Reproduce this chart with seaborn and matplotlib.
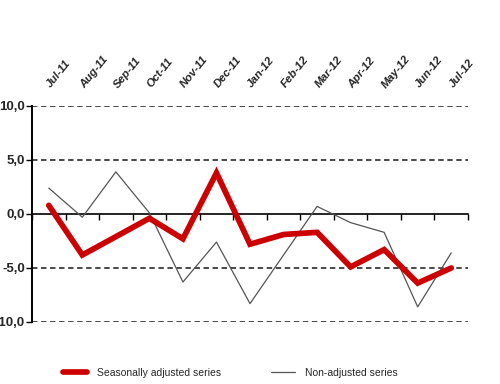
import pandas as pd
import numpy as np
import matplotlib
matplotlib.use('Agg')
import matplotlib.pyplot as plt
from matplotlib.ticker import FixedLocator
import seaborn as sns

# Dados do gráfico
meses = ['Jul-11', 'Aug-11', 'Sep-11', 'Oct-11', 'Nov-11', 'Dec-11', 'Jan-12',
         'Feb-12', 'Mar-12', 'Apr-12', 'May-12', 'Jun-12', 'Jul-12']
serie_ajustada = [0.8, -3.8, -2.1, -0.4, -2.3, 3.8, -2.8, -1.9, -1.7, -4.9, -3.3, -6.4, -5.0]
serie_bruta = [2.4, -0.3, 3.9, 0.1, -6.3, -2.6, -8.3, -3.8, 0.7, -0.8, -1.7, -8.6, -3.6]
rotulos_y = ['-10,0', '-5,0', '0,0', '5,0', '10,0']

sns.set_style('white')
plt.rcParams['font.family'] = ['Liberation Sans Narrow', 'Liberation Sans', 'DejaVu Sans']

dados = pd.DataFrame({'pos': range(len(meses)),
                      'ajustada': serie_ajustada,
                      'bruta': serie_bruta})

fig = plt.figure(figsize=(5, 3.84), dpi=100)
ax = fig.add_axes([0.064, 0.1615, 0.872, 0.5625])

sns.lineplot(data=dados, x='pos', y='bruta', ax=ax, color='#555555', linewidth=0.9,
             label='Non-adjusted series', zorder=3)
sns.lineplot(data=dados, x='pos', y='ajustada', ax=ax, color='#cc0000', linewidth=4.1,
             label='Seasonally adjusted series', zorder=4,
             solid_capstyle='round', solid_joinstyle='miter')

# linhas de grade tracejadas
for v in [-10, -5, 5, 10]:
    ax.axhline(v, color='#3a3a3a', linestyle=(0, (3, 2)), linewidth=1.3, zorder=1)

# eixos (a posição do eixo x tem de vir antes de formatar os rótulos)
ax.spines['top'].set_visible(False)
ax.spines['right'].set_visible(False)
ax.spines['bottom'].set_position(('data', 0))
ax.spines['bottom'].set_color('black')
ax.spines['bottom'].set_linewidth(1.2)
ax.spines['left'].set_color('black')
ax.spines['left'].set_linewidth(1.4)
ax.set_xlabel('')
ax.set_ylabel('')

ax.set_xlim(-0.5, len(meses) - 0.5)
ax.set_ylim(-10, 10)
ax.set_yticks([-10, -5, 0, 5, 10])
ax.set_yticklabels(rotulos_y, fontweight='bold', fontsize=9.5)
ax.tick_params(axis='y', direction='out', length=4, width=1, color='black', pad=1, left=True)

# rótulos dos meses no topo, inclinados
ax.set_xticks(range(len(meses)))
ax.set_xticklabels(meses)
ax.xaxis.set_minor_locator(FixedLocator(np.arange(-0.5, len(meses), 1)))
ax.tick_params(axis='x', which='major', top=True, bottom=False, labeltop=True,
               labelbottom=False, length=0, pad=14, labelrotation=51, labelsize=8.2)
ax.tick_params(axis='x', which='minor', bottom=True, top=False, direction='out',
               length=4, width=1, color='black')
plt.setp(ax.get_xticklabels(), fontweight='bold', fontstyle='italic',
         ha='left', va='center', rotation_mode='anchor')

handles, labels = ax.get_legend_handles_labels()
ax.legend(handles[::-1], labels[::-1], loc='center', bbox_to_anchor=(0.455, -0.235),
          ncol=2, frameon=False, fontsize=7.5, handlelength=2.3, columnspacing=4.8,
          handletextpad=1.0)

fig.savefig('out.png', dpi=100, facecolor='white')
